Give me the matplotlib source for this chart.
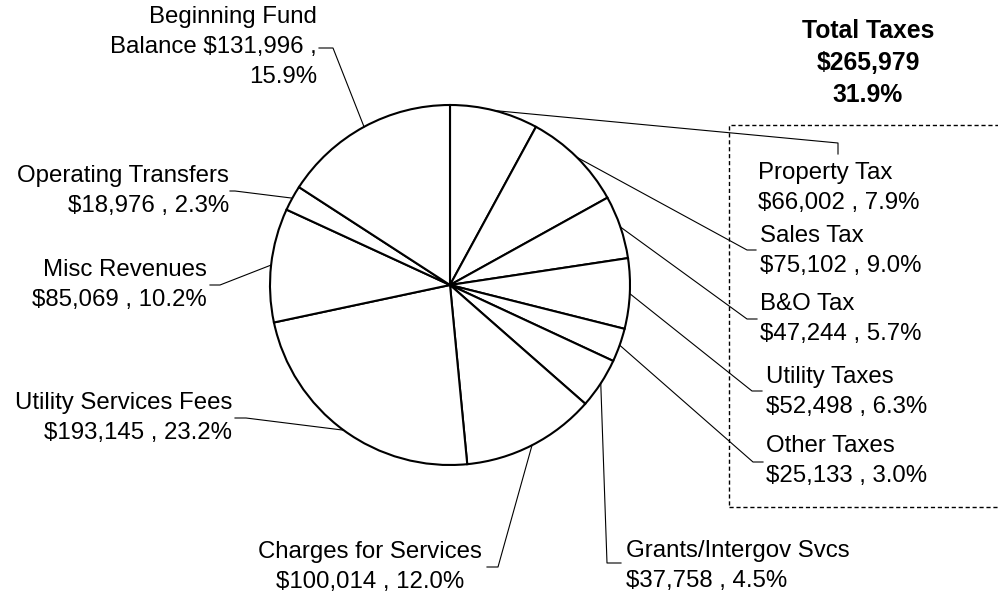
import numpy as np
import matplotlib.pyplot as plt
from matplotlib.patches import Rectangle

plt.rcParams['font.family'] = ['Liberation Sans', 'DejaVu Sans']

# Revenue sources (clockwise from 12 o'clock)
names = ['Property Tax', 'Sales Tax', 'B&O Tax', 'Utility Taxes', 'Other Taxes',
         'Grants/Intergov Svcs', 'Charges for Services', 'Utility Services Fees',
         'Misc Revenues', 'Operating Transfers', 'Beginning Fund\nBalance']
amounts = [66002, 75102, 47244, 52498, 25133, 37758, 100014, 193145,
           85069, 18976, 131996]
# percentages as printed on the chart
pct_labels = ['7.9%', '9.0%', '5.7%', '6.3%', '3.0%', '4.5%', '12.0%', '23.2%',
              '10.2%', '2.3%', '15.9%']
tax_count = 5
tax_pct_label = '31.9%'

tax_total = sum(amounts[:tax_count])

W, H = 998, 594
def fy(y):
    return H - y

# label layout in pixel coords (x, y, ha)
label_pos = [
    (758, 188, 'left'),
    (760, 251, 'left'),
    (760, 319, 'left'),
    (766, 392, 'left'),
    (766, 461, 'left'),
    (626, 566, 'left'),
    (370, 567, 'center'),
    (232, 418, 'right'),
    (207, 285, 'right'),
    (229, 191, 'right'),
    (317, 47, 'right'),
]
# leader elbow and end points
leaders = [
    ((838, 143), (838, 154)),
    ((747, 250), (756, 250)),
    ((747, 319), (757, 319)),
    ((752, 391), (762, 391)),
    ((753, 462), (763, 462)),
    ((607, 563), (621, 563)),
    ((498, 567), (487, 567)),
    ((246, 418), (235, 418)),
    ((220, 285), (210, 285)),
    ((235, 191), (230, 191)),
    ((333, 48), (319, 48)),
]

fig = plt.figure(figsize=(9.98, 5.94), dpi=100)
ax = fig.add_axes([0, 0, 1, 1])

cx, cy, r = 450, fy(285), 180
wedges, _ = ax.pie(amounts, startangle=90, counterclock=False, center=(cx, cy),
                   radius=r, wedgeprops=dict(facecolor='white', edgecolor='black',
                                             linewidth=1.5))
ax.set_xlim(0, W)
ax.set_ylim(0, H)
ax.set_aspect('equal')
ax.axis('off')

fs = 17.3
for i, w in enumerate(wedges):
    mid = np.deg2rad((w.theta1 + w.theta2) / 2)
    sx, sy = cx + r * np.cos(mid), cy + r * np.sin(mid)
    (ex, ey), (hx, hy) = leaders[i]
    ax.plot([sx, ex, hx], [sy, fy(ey), fy(hy)], color='black', lw=0.8)
    if i == len(wedges) - 1:
        txt = f"{names[i]} ${amounts[i]:,} ,\n{pct_labels[i]}"
    else:
        txt = f"{names[i]}\n${amounts[i]:,} , {pct_labels[i]}"
    x, y, ha = label_pos[i]
    ax.text(x, fy(y), txt, ha=ha, va='center', multialignment=ha,
            fontsize=fs, linespacing=1.45)

ax.text(868, fy(63), f"Total Taxes\n${tax_total:,}\n{tax_pct_label}",
        ha='center', va='center', fontsize=17.8, fontweight='bold', linespacing=1.4)

ax.add_patch(Rectangle((729, fy(507)), 300, 507 - 125, fill=False,
                       edgecolor='black', lw=1, linestyle=(0, (3, 2)), clip_on=False))

fig.savefig('out.png', dpi=100)
